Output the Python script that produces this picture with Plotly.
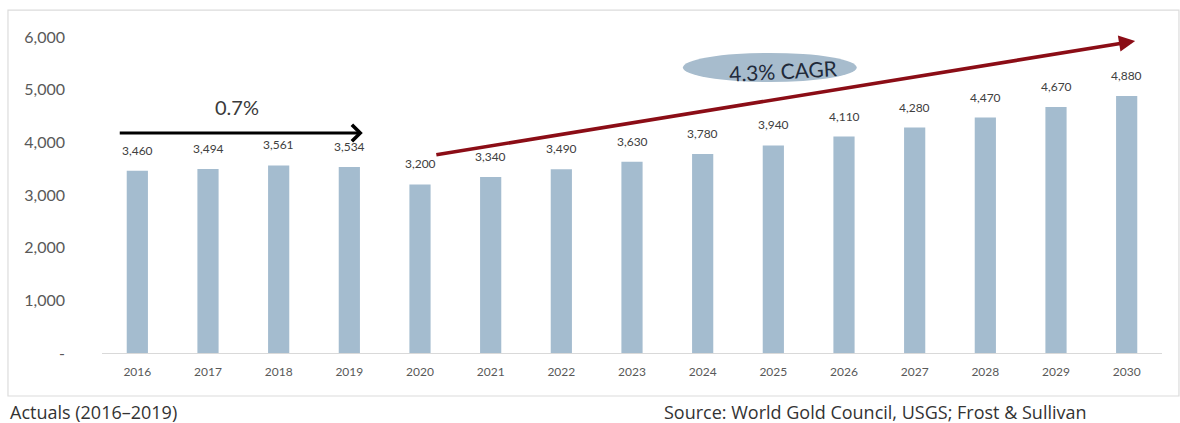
import plotly.graph_objects as go

# Annual demand, 2016-2030 (actuals to 2019, forecast after)
years = ["2016", "2017", "2018", "2019", "2020", "2021", "2022", "2023",
         "2024", "2025", "2026", "2027", "2028", "2029", "2030"]
values = [3460, 3494, 3561, 3534, 3200, 3340, 3490, 3630, 3780, 3940,
          4110, 4280, 4470, 4670, 4880]
value_labels = ["3,460", "3,494", "3,561", "3,534", "3,200", "3,340", "3,490",
                "3,630", "3,780", "3,940", "4,110", "4,280", "4,470", "4,670", "4,880"]
y_ticks = [0, 1000, 2000, 3000, 4000, 5000, 6000]
y_tick_text = ["-", "1,000", "2,000", "3,000", "4,000", "5,000", "6,000"]

FONT = "Lato, 'Open Sans', sans-serif"
NOTE_FONT = "'Open Sans', Lato, sans-serif"
BAR = "#a4bccf"
GREY = "#595959"

# bars sit at integer slots; the years are shown as tick labels
slots = list(range(len(years)))

fig = go.Figure()
fig.add_trace(go.Bar(
    x=slots, y=values, marker=dict(color=BAR, line=dict(width=0)),
    customdata=years, hovertemplate="%{customdata}: %{y:,}<extra></extra>",
))

annotations = []
# value labels above each bar
for i, v, lab in zip(slots, values, value_labels):
    annotations.append(dict(
        x=i, y=v, xref="x", yref="y", text=lab, showarrow=False,
        yanchor="bottom", yshift=11,
        font=dict(family=FONT, size=12, color="#404040"),
    ))

# historical growth arrow (2016-2019)
annotations.append(dict(
    x=3.19, y=4177, ax=-0.27, ay=4177, xref="x", yref="y", axref="x", ayref="y",
    text="", showarrow=True, arrowhead=4, arrowsize=1.0, arrowwidth=3.2,
    arrowcolor="#000000",
))
annotations.append(dict(
    x=1.41, y=4671, xref="x", yref="y", text="0.7%", showarrow=False,
    font=dict(family=FONT, size=20, color="#3a3a3a"),
))

# forecast growth arrow (2020-2030)
annotations.append(dict(
    x=14.12, y=5924, ax=4.21, ay=3759, xref="x", yref="y", axref="x", ayref="y",
    text="", showarrow=True, arrowhead=2, arrowsize=0.9, arrowwidth=3.6,
    arrowcolor="#8b0d16",
))
annotations.append(dict(
    x=9.14, y=5360, xref="x", yref="y", text="4.3% CAGR", showarrow=False,
    textangle=-3,
    font=dict(family=FONT, size=21, color="#1f2a3a"),
))

# footer notes
annotations.append(dict(
    x=-0.0887, y=-0.187, xref="paper", yref="paper", xanchor="left", yanchor="middle",
    text="Actuals (2016–2019)", showarrow=False,
    font=dict(family=NOTE_FONT, size=18, color="#333333"),
))
annotations.append(dict(
    x=0.5283, y=-0.187, xref="paper", yref="paper", xanchor="left", yanchor="middle",
    text="Source: World Gold Council, USGS; Frost & Sullivan", showarrow=False,
    font=dict(family=NOTE_FONT, size=18, color="#333333"),
))

shapes = [
    # chart frame
    dict(type="rect", xref="paper", yref="paper", x0=-0.0887, x1=1.016,
         y0=-0.136, y1=1.085, line=dict(color="#dcdcdc", width=1.2),
         fillcolor="rgba(0,0,0,0)", layer="below"),
    # CAGR bubble
    dict(type="circle", xref="x", yref="y", x0=7.72, x1=10.18, y0=5145, y1=5696,
         fillcolor="#a7bccd", line=dict(color="#a7bccd", width=0), layer="below"),
]

fig.update_layout(
    width=1180, height=423,
    margin=dict(l=102, r=18, t=37, b=70),
    paper_bgcolor="white", plot_bgcolor="white",
    bargap=0.7, showlegend=False,
    font=dict(family=FONT, color=GREY),
    annotations=annotations, shapes=shapes,
    xaxis=dict(
        range=[-0.5, len(years) - 0.5], showgrid=False, zeroline=False,
        tickvals=slots, ticktext=years,
        showline=True, linecolor="#d9d9d9", linewidth=1,
        ticks="", tickfont=dict(family=FONT, size=12, color=GREY),
        ticklabelstandoff=8,
    ),
    yaxis=dict(
        range=[0, 6000], showgrid=False, zeroline=False, showline=False,
        tickvals=y_ticks, ticktext=y_tick_text, ticks="",
        tickfont=dict(family=FONT, size=16, color=GREY),
        ticklabelstandoff=36,
    ),
)

fig.write_html("out.html")
